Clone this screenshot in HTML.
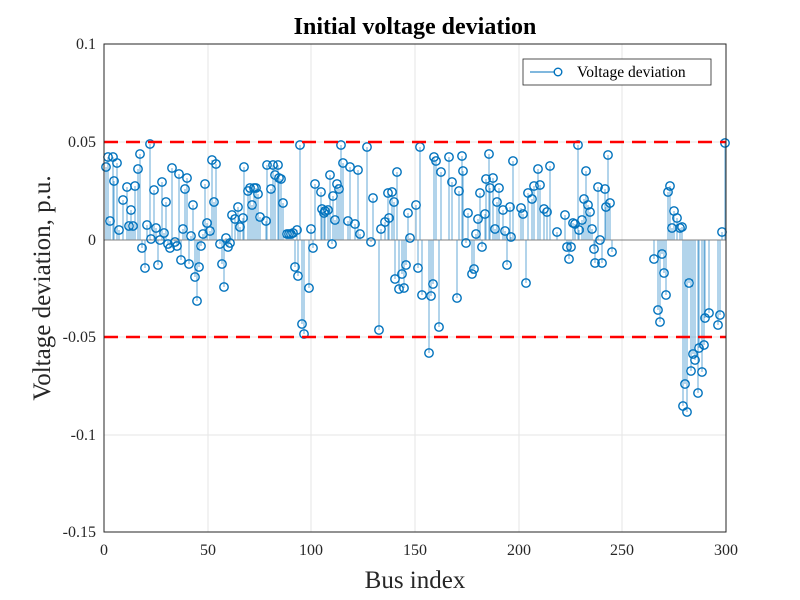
<!DOCTYPE html>
<html><head><meta charset="utf-8"><style>
html,body{margin:0;padding:0;background:#fff;}
svg{display:block;font-family:"Liberation Serif",serif;}
</style></head><body>
<svg id="s" width="800" height="600" viewBox="0 0 800 600" xmlns="http://www.w3.org/2000/svg">
<rect x="0" y="0" width="800" height="600" fill="#fff"/>
<g stroke="#e6e6e6" stroke-width="1">
<line x1="208" y1="44" x2="208" y2="532"/><line x1="311" y1="44" x2="311" y2="532"/><line x1="415" y1="44" x2="415" y2="532"/><line x1="519" y1="44" x2="519" y2="532"/><line x1="622" y1="44" x2="622" y2="532"/>
<line x1="104" y1="142" x2="726" y2="142"/><line x1="104" y1="240" x2="726" y2="240"/><line x1="104" y1="337" x2="726" y2="337"/><line x1="104" y1="435" x2="726" y2="435"/>
</g>
<g id="stems" stroke="#0072BD" stroke-opacity="0.6" stroke-width="1"></g>
<line x1="104" y1="240" x2="726" y2="240" stroke="#808080" stroke-width="1"/>
<g id="marks" fill="none" stroke="#0072BD" stroke-width="1.4"></g>
<g stroke="#ff0000" stroke-width="2.5" stroke-dasharray="14,8">
<line x1="104" y1="142" x2="726" y2="142"/><line x1="104" y1="337" x2="726" y2="337"/>
</g>
<rect x="104" y="44" width="622" height="488" fill="none" stroke="#262626" stroke-width="1"/>
<g fill="#262626" font-size="16" text-anchor="end">
<text x="96" y="49">0.1</text><text x="96" y="147">0.05</text><text x="96" y="245">0</text><text x="96" y="342">-0.05</text><text x="96" y="440">-0.1</text><text x="96" y="537">-0.15</text>
</g>
<g fill="#262626" font-size="16" text-anchor="middle">
<text x="104" y="555">0</text><text x="208" y="555">50</text><text x="311" y="555">100</text><text x="415" y="555">150</text><text x="519" y="555">200</text><text x="622" y="555">250</text><text x="726" y="555">300</text>
</g>
<text x="415" y="34" font-size="24" font-weight="bold" text-anchor="middle" fill="#000">Initial voltage deviation</text>
<text x="415" y="588" font-size="25" text-anchor="middle" fill="#262626">Bus index</text>
<text transform="translate(50,288) rotate(-90)" font-size="25" text-anchor="middle" fill="#262626">Voltage deviation, p.u.</text>
<rect x="523" y="59" width="188" height="26" fill="#fff" stroke="#262626" stroke-width="0.8"/>
<line x1="530" y1="72" x2="555" y2="72" stroke="#0072BD" stroke-width="1"/>
<circle cx="558" cy="72" r="3.8" fill="none" stroke="#0072BD" stroke-width="1.4"/>
<text x="577" y="77" font-size="15.5" fill="#000">Voltage deviation</text>
</svg>
<script>
var p=[[106,167],[108,157],[110,221],[113,157],[114,181],[117,163],[119,230],[123,200],[127,187],[129,226],[131,210],[133,226],[135,186],[138,169],[140,154],[142,248],[145,268],[147,225],[150,144],[151,239],[154,190],[156,228],[158,265],[160,240],[162,182],[164,233],[166,202],[168,244],[170,248],[172,168],[175,242],[177,246],[179,174],[181,260],[183,229],[185,189],[187,178],[189,264],[191,236],[193,205],[195,277],[197,301],[199,267],[201,246],[203,234],[205,184],[207,223],[210,231],[212,160],[214,202],[216,164],[220,244],[222,264],[224,287],[226,238],[228,247],[230,243],[232,215],[235,219],[238,207],[240,227],[243,218],[244,167],[248,191],[250,188],[252,205],[254,188],[256,188],[258,194],[260,217],[266,221],[267,165],[271,189],[273,165],[275,175],[278,165],[279,178],[281,179],[283,203],[287,234],[289,234],[291,234],[293,233],[295,267],[297,230],[298,276],[300,145],[302,324],[304,334],[309,288],[311,229],[313,248],[315,184],[321,192],[322,209],[324,213],[325,211],[328,210],[330,175],[332,244],[333,196],[335,220],[337,184],[339,189],[341,145],[343,163],[348,221],[350,167],[355,224],[358,170],[360,234],[367,147],[371,242],[373,198],[379,330],[381,229],[385,222],[388,193],[389,218],[392,192],[394,202],[395,279],[397,172],[399,289],[402,274],[404,288],[406,265],[408,213],[410,238],[416,205],[418,268],[420,147],[422,295],[429,353],[431,296],[433,284],[434,157],[436,161],[439,327],[441,172],[449,157],[452,182],[457,298],[459,191],[462,156],[463,171],[466,243],[468,213],[472,274],[474,269],[476,234],[478,219],[480,193],[482,247],[485,214],[486,179],[489,154],[490,188],[493,178],[495,229],[497,202],[499,188],[503,210],[505,231],[507,265],[510,207],[511,237],[513,161],[521,208],[523,214],[526,283],[528,193],[532,199],[534,186],[538,169],[540,185],[544,209],[547,212],[550,166],[557,232],[565,215],[567,247],[569,259],[571,247],[573,223],[575,224],[578,145],[579,230],[582,220],[584,199],[586,171],[588,205],[590,212],[592,229],[594,249],[595,263],[598,187],[600,240],[602,263],[605,189],[606,207],[608,155],[610,203],[612,252],[654,259],[658,310],[660,322],[662,254],[664,273],[666,295],[668,192],[670,186],[672,228],[674,211],[677,218],[680,228],[682,227],[683,406],[685,384],[687,412],[689,283],[691,371],[693,354],[695,360],[698,393],[699,348],[702,372],[704,345],[705,318],[709,313],[718,325],[720,315],[722,232],[725,143]];
var NS="http://www.w3.org/2000/svg",st=document.getElementById("stems"),mk=document.getElementById("marks");
p.forEach(function(q){var l=document.createElementNS(NS,"line");l.setAttribute("x1",q[0]);l.setAttribute("x2",q[0]);l.setAttribute("y1",240);l.setAttribute("y2",q[1]);st.appendChild(l);
var c=document.createElementNS(NS,"circle");c.setAttribute("cx",q[0]);c.setAttribute("cy",q[1]);c.setAttribute("r",4.2);mk.appendChild(c);});
</script>
</body></html>
